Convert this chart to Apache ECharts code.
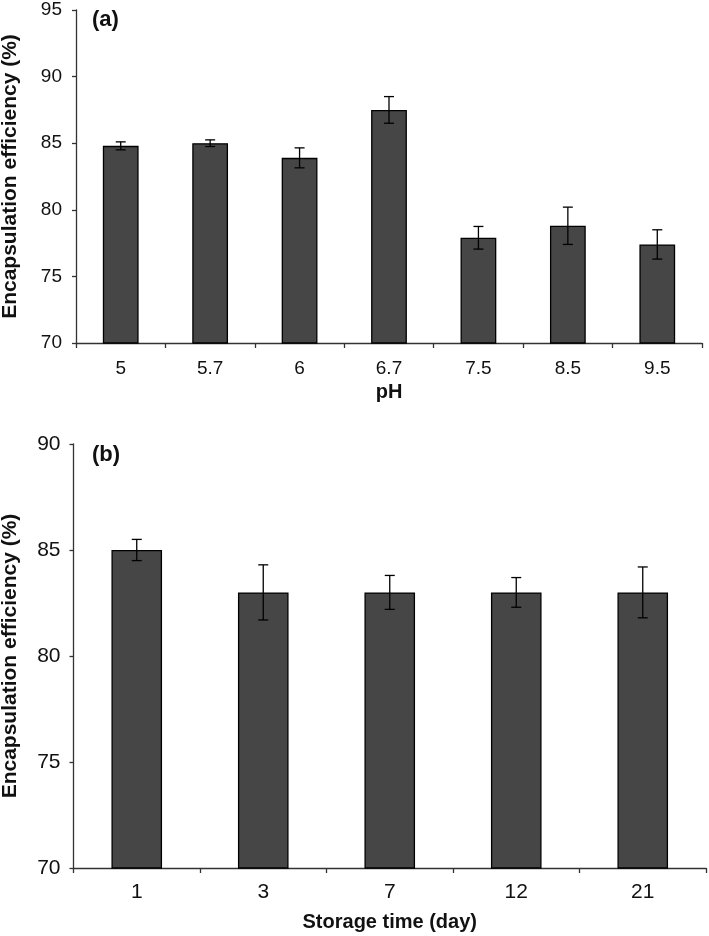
<!DOCTYPE html>
<html><head><meta charset="utf-8">
<script src="https://cdn.jsdelivr.net/npm/echarts@6/dist/echarts.min.js"></script>
<style>html,body{margin:0;padding:0;background:#fff}#c{width:709px;height:936px}</style>
</head><body><div id="c"></div>
<script>
const phCats = ['5','5.7','6','6.7','7.5','8.5','9.5'];
const phMeans = [84.8, 85.0, 83.9, 87.5, 77.9, 78.8, 77.4];
const phErr = [0.3, 0.25, 0.75, 1.0, 0.85, 1.4, 1.1];
const dayCats = ['1','3','7','12','21'];
const dayMeans = [85.0, 83.0, 83.0, 83.0, 83.0];
const dayErr = [0.5, 1.3, 0.8, 0.7, 1.2];

const FONT = '"Liberation Sans", Arial, sans-serif';
const chart = echarts.init(document.getElementById('c'), null, {renderer:'canvas'});

function errSeries(means, errs, idx){
  return {
    type:'custom', xAxisIndex:idx, yAxisIndex:idx, z:10, silent:true,
    data: means.map((m,i)=>[i, m-errs[i], m+errs[i]]),
    renderItem: function(params, api){
      const lo = api.coord([api.value(0), api.value(1)]);
      const hi = api.coord([api.value(0), api.value(2)]);
      const x = lo[0], w = 5;
      const st = {stroke:'#000', lineWidth:1.3};
      return {type:'group', children:[
        {type:'line', shape:{x1:x,y1:lo[1],x2:x,y2:hi[1]}, style:st},
        {type:'line', shape:{x1:x-w,y1:lo[1],x2:x+w,y2:lo[1]}, style:st},
        {type:'line', shape:{x1:x-w,y1:hi[1],x2:x+w,y2:hi[1]}, style:st}
      ]};
    }
  };
}

const axisLine = {lineStyle:{color:'#333', width:1.3}};
const tickStyle = {lineStyle:{color:'#333', width:1.3}};
function lab(size, margin){ return {color:'#111', fontSize:size, fontFamily:FONT, margin:margin}; }
const nameStyle = {color:'#111', fontSize:20, fontWeight:'bold', fontFamily:FONT};
const yNameStyle = {color:'#111', fontSize:21, fontWeight:'bold', fontFamily:FONT};

chart.setOption({
  animation:false,
  backgroundColor:'#fff',
  grid:[
    {left:76, top:10, width:626, height:333, outerBoundsMode:'none'},
    {left:73.5, top:444, width:632.5, height:424, outerBoundsMode:'none'}
  ],
  title:[
    {text:'(a)', left:87, top:4, textStyle:{fontSize:22, fontWeight:'bold', color:'#111', fontFamily:FONT}},
    {text:'(b)', left:87, top:439, textStyle:{fontSize:22, fontWeight:'bold', color:'#111', fontFamily:FONT}}
  ],
  xAxis:[
    {type:'category', gridIndex:0, data:phCats, boundaryGap:true,
     axisLine:axisLine, axisTick:Object.assign({show:true, alignWithLabel:false, length:5}, tickStyle),
     axisLabel:lab(19, 16),
     name:'pH', nameLocation:'middle', nameGap:39, nameTextStyle:nameStyle},
    {type:'category', gridIndex:1, data:dayCats, boundaryGap:true,
     axisLine:axisLine, axisTick:Object.assign({show:true, alignWithLabel:false, length:5}, tickStyle),
     axisLabel:lab(21, 14),
     name:'Storage time (day)', nameLocation:'middle', nameGap:44, nameTextStyle:nameStyle}
  ],
  yAxis:[
    {type:'value', gridIndex:0, min:70, max:95, interval:5,
     axisLine:Object.assign({show:true}, axisLine), axisTick:Object.assign({show:true, length:4}, tickStyle),
     splitLine:{show:false}, axisLabel:lab(19, 14),
     name:'Encapsulation efficiency (%)', nameLocation:'middle', nameGap:55, nameTextStyle:yNameStyle},
    {type:'value', gridIndex:1, min:70, max:90, interval:5,
     axisLine:Object.assign({show:true}, axisLine), axisTick:Object.assign({show:true, length:4}, tickStyle),
     splitLine:{show:false}, axisLabel:lab(21, 13),
     name:'Encapsulation efficiency (%)', nameLocation:'middle', nameGap:53, nameTextStyle:yNameStyle}
  ],
  series:[
    {type:'bar', xAxisIndex:0, yAxisIndex:0, data:phMeans, barWidth:'40%',
     itemStyle:{color:'#464646', borderColor:'#000', borderWidth:1.3}},
    errSeries(phMeans, phErr, 0),
    {type:'bar', xAxisIndex:1, yAxisIndex:1, data:dayMeans, barWidth:'40%',
     itemStyle:{color:'#464646', borderColor:'#000', borderWidth:1.3}},
    errSeries(dayMeans, dayErr, 1)
  ]
});
</script></body></html>
